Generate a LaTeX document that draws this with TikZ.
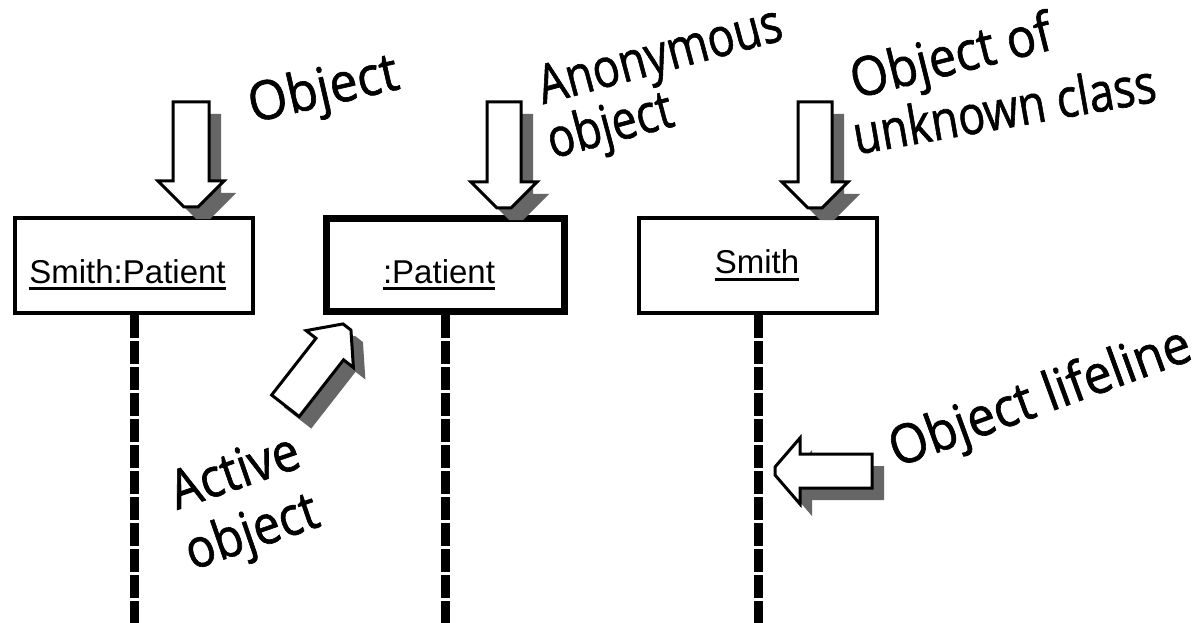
\documentclass[tikz,border=0pt]{standalone}
\usepackage{fontspec}
\setmainfont{Liberation Sans}
\newfontfamily\hand[FakeBold=1.2]{Open Sans}
\definecolor{shadowgray}{HTML}{666666}
% #1 head half width, #2 head length, #3 half flat tip, #4 shaft half width, #5 shaft length
\newcommand\fatarrowpath[5]{(-#3,0) -- (-#1,-#2) -- (-#4,-#2) -- (-#4,-#2-#5) -- (#4,-#2-#5) -- (#4,-#2) -- (#1,-#2) -- (#3,0) -- cycle}
% #1 x, #2 y (tip), #3 rotation, #4..#8 shape
\newcommand\fatarrow[8]{%
  \begin{scope}[shift={(#1+12,#2+12)},rotate=#3]
    \fill[shadowgray] \fatarrowpath{#4}{#5}{#6}{#7}{#8};
  \end{scope}
  \begin{scope}[shift={(#1,#2)},rotate=#3]
    \filldraw[fill=white,draw=black,line width=3pt,line join=miter] \fatarrowpath{#4}{#5}{#6}{#7}{#8};
  \end{scope}}
\begin{document}
\begin{tikzpicture}[x=1pt,y=-1pt,
  obj/.style={draw,line width=4pt,fill=white,minimum width=238pt,minimum height=95pt,inner sep=0pt},
  life/.style={line width=9pt,dash pattern=on 23pt off 3pt},
  lab/.style={font=\fontsize{33}{36}\selectfont,inner sep=0pt,anchor=base},
  ul/.style={line width=3pt},
  note/.style={font=\hand\fontsize{54}{58}\selectfont,inner sep=0pt,align=left}]
\useasboundingbox[fill=white] (0,0) rectangle (1203,623);
\coordinate (bot) at (0,632);

% objects
\node[obj] (b1) at (134,265.5) {};
\node[obj,line width=7pt,minimum height=93pt] (b2) at (445.5,265) {};
\node[obj] (b3) at (758,265.5) {};

% lifelines
\draw[life] (b1.south) -- (b1.south |- bot);
\draw[life] (b2.south) -- (b2.south |- bot);
\draw[life] (b3.south) -- (b3.south |- bot);

% labels
\node[lab] (t1) at (127.5,283) {Smith:Patient};
\draw[ul] ([yshift=-5pt]t1.base west) -- ([yshift=-5pt]t1.base east);
\node[lab] (t2) at (439,283) {:Patient};
\draw[ul] ([yshift=-5pt]t2.base west) -- ([yshift=-5pt]t2.base east);
\node[lab] (t3) at (757,273) {Smith};
\draw[ul] ([yshift=-6pt]t3.base west) -- ([yshift=-6pt]t3.base east);

% arrows
\fatarrow{191}{207}{0}{33}{26}{7}{18}{79}
\fatarrow{504}{208}{0}{33}{26}{7}{17}{80}
\fatarrow{815}{208}{0}{33}{26}{7}{17}{80}
\fatarrow{347}{327}{142}{30}{28}{5}{17.5}{72}
\fatarrow{775}{471}{-90}{33}{25}{4}{17}{72}

% notes
\node[note,rotate=13,xscale=0.93] (n1) at (324,92) {Object};
\node[note,rotate=15,xscale=0.83,font=\hand\fontsize{54}{47}\selectfont] (n2) at (668,86) {Anonymous\\\hspace*{-6pt}object};
\node[note,rotate=14,xscale=0.90] (n4) at (952,60) {Object of};
\node[note,rotate=10,xscale=0.83] (n5) at (1004,108) {unknown class};
\node[note,rotate=20,xscale=0.92] (n6) at (1041,400) {Object lifeline};
\node[note,rotate=19,xscale=0.89,font=\hand\fontsize{54}{62}\selectfont] (n7) at (246,505) {Active\\\hspace*{-6pt}object};
\end{tikzpicture}
\end{document}
